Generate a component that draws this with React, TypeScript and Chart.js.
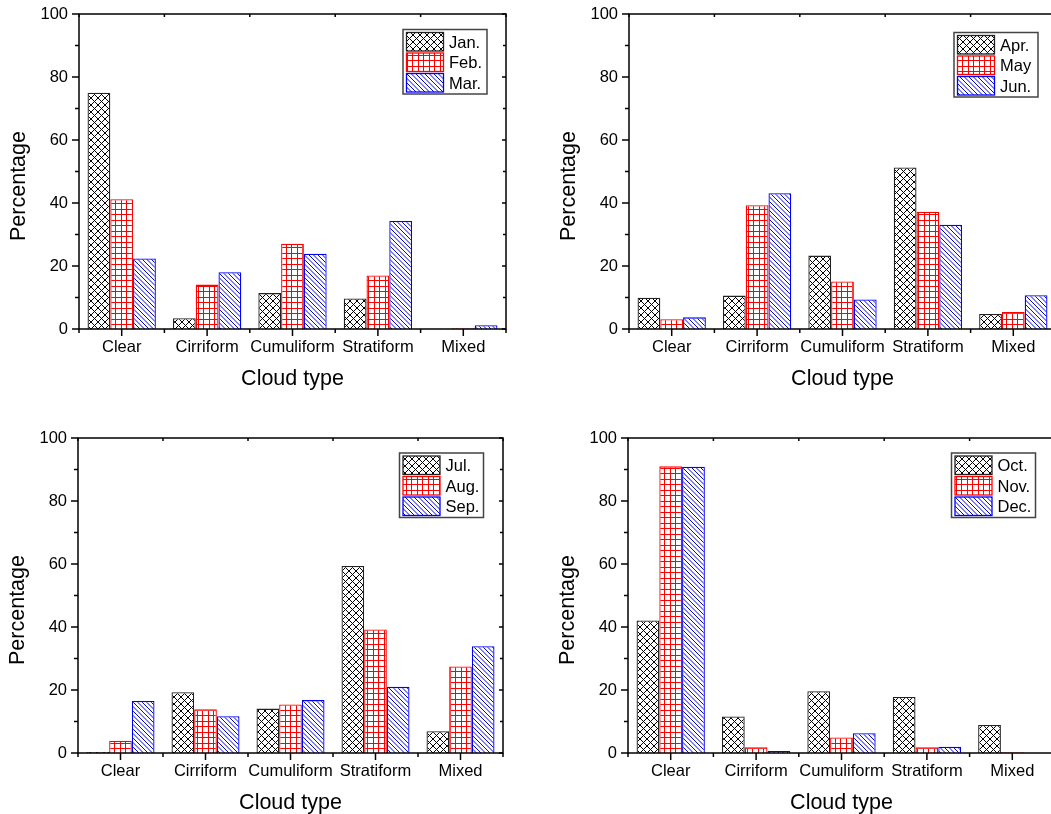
import React, { useEffect, useRef } from "react";
import { Chart, registerables } from "chart.js";

Chart.register(...registerables);

const categories = ["Clear", "Cirriform", "Cumuliform", "Stratiform", "Mixed"];

const jan = [75.0, 3.4, 11.4, 9.7, 0.1];
const feb = [41.2, 14.1, 27.1, 17.0, 0.2];
const mar = [22.4, 18.0, 23.9, 34.3, 1.2];
const apr = [9.9, 10.6, 23.3, 51.3, 4.8];
const may = [3.1, 39.3, 15.1, 37.2, 5.4];
const jun = [3.7, 43.1, 9.4, 33.1, 10.7];
const jul = [0.3, 19.3, 14.1, 59.4, 6.9];
const aug = [3.9, 13.9, 15.4, 39.2, 27.5];
const sep = [16.5, 11.7, 16.8, 21.0, 33.9];
const oct = [42.1, 11.6, 19.6, 17.8, 8.9];
const nov = [91.0, 1.8, 4.9, 1.8, 0.2];
const dec = [90.9, 0.6, 6.3, 2.0, 0.0];

const monthLabels = [
  ["Jan.", "Feb.", "Mar."],
  ["Apr.", "May", "Jun."],
  ["Jul.", "Aug.", "Sep."],
  ["Oct.", "Nov.", "Dec."],
];
const panelSeries = [
  [jan, feb, mar],
  [apr, may, jun],
  [jul, aug, sep],
  [oct, nov, dec],
];

const yMin = 0;
const yMax = 100;
const yStep = 20;
const xTitle = "Cloud type";
const yTitle = "Percentage";

const FONT = "'Liberation Sans', Arial, Helvetica, sans-serif";

// layout per panel (canvas placement, right padding, legend offsets)
const panels = [
  { left: 0, top: 0, padRight: 19, legDx: 19, legDy: 15.5 },
  { left: 550, top: 0, padRight: 19, legDx: 18, legDy: 18.5 },
  { left: -1, top: 424, padRight: 21, legDx: 19.5, legDy: 15 },
  { left: 549, top: 424, padRight: 19, legDx: 19.5, legDy: 15 },
];

const CW = 525;
const CH = 407;

function makeTile(size: number, draw: (g: CanvasRenderingContext2D) => void): CanvasPattern | string {
  const c = document.createElement("canvas");
  c.width = size;
  c.height = size;
  const g = c.getContext("2d");
  if (!g) return "#fff";
  g.fillStyle = "#fff";
  g.fillRect(0, 0, size, size);
  draw(g);
  const p = g.createPattern(c, "repeat");
  return p || "#fff";
}

function crossPattern() {
  const s = 7;
  return makeTile(s, (g) => {
    g.strokeStyle = "#000";
    g.lineWidth = 1;
    g.beginPath();
    for (let k = -1; k <= 1; k++) {
      g.moveTo(k * s, 0);
      g.lineTo(k * s + s, s);
      g.moveTo(k * s + s, 0);
      g.lineTo(k * s, s);
    }
    g.stroke();
  });
}

function gridPattern() {
  const s = 11;
  return makeTile(s, (g) => {
    g.strokeStyle = "#ff0000";
    g.lineWidth = 1;
    g.beginPath();
    for (const p of [0.5, 5.5]) {
      g.moveTo(p, 0);
      g.lineTo(p, s);
      g.moveTo(0, p);
      g.lineTo(s, p);
    }
    g.stroke();
  });
}

function diagPattern() {
  const s = 9;
  return makeTile(s, (g) => {
    g.strokeStyle = "#0000ff";
    g.lineWidth = 1;
    g.beginPath();
    for (let k = -3; k <= 2; k++) {
      g.moveTo(k * 4.5, 0);
      g.lineTo(k * 4.5 + s, s);
    }
    g.stroke();
  });
}

const framePlugin = {
  id: "originFrame",
  afterDraw(chart: any) {
    const { ctx, chartArea } = chart;
    const { left, right, top, bottom } = chartArea;
    const ys = chart.scales.y;
    const xs = chart.scales.x;
    const cfg = chart.options.plugins.originFrame || {};
    ctx.save();
    ctx.strokeStyle = "#000";
    ctx.lineWidth = 1.5;
    const line = (x1: number, y1: number, x2: number, y2: number) => {
      ctx.beginPath();
      ctx.moveTo(x1, y1);
      ctx.lineTo(x2, y2);
      ctx.stroke();
    };
    ctx.strokeRect(left, top, right - left, bottom - top);
    // y ticks
    for (let v = yMin; v <= yMax; v += yStep / 2) {
      const py = ys.getPixelForValue(v);
      const major = v % yStep === 0;
      line(left - (major ? 7 : 4), py, left, py);
      line(right, py, right - (major ? 4 : 3), py);
    }
    // x ticks
    const n = chart.data.labels.length;
    for (let i = 0; i < n; i++) {
      const px = xs.getPixelForValue(i);
      line(px, bottom, px, bottom + 7);
    }
    for (let i = 0; i <= n; i++) {
      const px = xs.getPixelForValue(i - 0.5);
      line(px, bottom, px, bottom + 4);
      line(px, top, px, top + 3);
    }
    // titles
    ctx.fillStyle = "#000";
    ctx.font = `21.5px ${FONT}`;
    ctx.textAlign = "center";
    ctx.textBaseline = "alphabetic";
    ctx.fillText(xTitle, (left + right) / 2, bottom + 56);
    ctx.save();
    ctx.translate(left - 54, (top + bottom) / 2 + 14.5);
    ctx.rotate(-Math.PI / 2);
    ctx.fillText(yTitle, 0, 0);
    ctx.restore();

    // legend
    const boxW = 84;
    const boxH = 64.5;
    const bx = right - cfg.legDx - boxW;
    const by = top + cfg.legDy;
    ctx.lineWidth = 1.5;
    ctx.strokeStyle = "#444";
    ctx.fillStyle = "#fff";
    ctx.fillRect(bx, by, boxW, boxH);
    ctx.strokeRect(bx, by, boxW, boxH);
    ctx.font = `16.5px ${FONT}`;
    ctx.textAlign = "left";
    chart.data.datasets.forEach((ds: any, i: number) => {
      const sx = bx + 3.5;
      const sy = by + 3 + i * 20.5;
      ctx.fillStyle = ds.backgroundColor;
      ctx.fillRect(sx, sy, 37, 18.5);
      ctx.strokeStyle = ds.borderColor;
      ctx.lineWidth = 1.3;
      ctx.strokeRect(sx, sy, 37, 18.5);
      ctx.fillStyle = "#000";
      ctx.fillText(ds.label, bx + 46, sy + 9.25 + 6);
    });
    ctx.restore();
  },
};

function Panel({ idx }: { idx: number }) {
  const ref = useRef<HTMLCanvasElement>(null);
  const p = panels[idx];
  useEffect(() => {
    if (!ref.current) return;
    const fills = [crossPattern(), gridPattern(), diagPattern()];
    const borders = ["#222222", "#ff0000", "#0000ff"];
    const chart = new Chart(ref.current, {
      type: "bar",
      data: {
        labels: categories,
        datasets: panelSeries[idx].map((vals, i) => ({
          label: monthLabels[idx][i],
          data: vals,
          backgroundColor: fills[i] as any,
          borderColor: borders[i],
          borderWidth: 1.3,
          categoryPercentage: 0.8,
          barPercentage: 1.0,
        })),
      },
      options: {
        responsive: false,
        animation: false,
        devicePixelRatio: 1,
        layout: { padding: { left: 0, top: 14, right: p.padRight, bottom: 0 } },
        plugins: {
          legend: { display: false },
          tooltip: { enabled: false },
          originFrame: { legDx: p.legDx, legDy: p.legDy },
        } as any,
        scales: {
          x: {
            type: "category",
            offset: true,
            grid: { display: false, drawTicks: false },
            border: { display: false },
            ticks: {
              color: "#000",
              font: { family: FONT, size: 16.5 },
              padding: 9,
              maxRotation: 0,
              autoSkip: false,
            },
            afterFit: (s: any) => {
              s.height = CH - 14 - 315;
              s.paddingLeft = 0;
              s.paddingRight = 0;
            },
          },
          y: {
            min: yMin,
            max: yMax,
            grid: { display: false, drawTicks: false },
            border: { display: false },
            ticks: {
              stepSize: yStep,
              color: "#000",
              font: { family: FONT, size: 16.5 },
              padding: 11,
            },
            afterFit: (s: any) => {
              s.width = 79;
              s.paddingTop = 0;
              s.paddingBottom = 0;
            },
          },
        },
      },
      plugins: [framePlugin],
    });
    return () => chart.destroy();
  }, [idx]);
  return (
    <canvas
      ref={ref}
      width={CW}
      height={CH}
      style={{ position: "absolute", left: p.left, top: p.top, width: CW, height: CH }}
    />
  );
}

export default function App() {
  return (
    <div
      style={{
        position: "absolute",
        left: 0,
        top: 0,
        width: 1051,
        height: 814,
        overflow: "hidden",
        background: "#fff",
      }}
    >
      {[0, 1, 2, 3].map((i) => (
        <Panel key={i} idx={i} />
      ))}
    </div>
  );
}
